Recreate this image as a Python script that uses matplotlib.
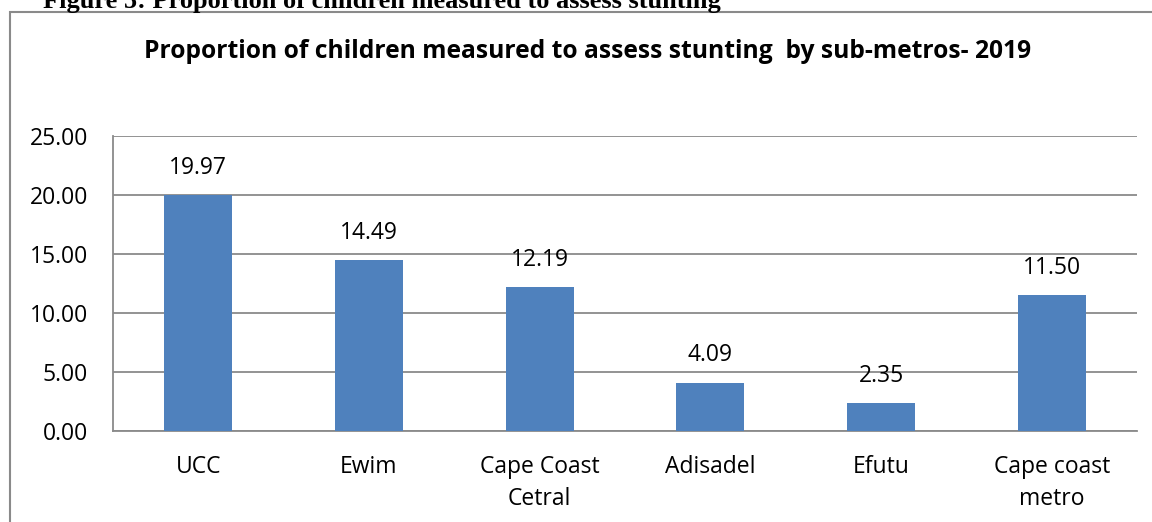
import numpy as np
import matplotlib.pyplot as plt
from matplotlib.patches import Rectangle

categories = ['UCC', 'Ewim', 'Cape Coast\nCetral', 'Adisadel', 'Efutu', 'Cape coast\nmetro']
values = [19.97, 14.49, 12.19, 4.09, 2.35, 11.50]
yticks = [0, 5, 10, 15, 20, 25]

plt.rcParams.update({
    'font.family': ['Open Sans', 'DejaVu Sans'],
    'font.size': 16.5,
})

W, H = 1152, 522
fig = plt.figure(figsize=(W / 100, H / 100), dpi=100)
ax = fig.add_axes([113 / W, 1 - 431 / H, (1137 - 113) / W, (431 - 136) / H])

x = np.arange(len(categories))
bars = ax.bar(x, values, width=0.4, color='#4F81BD', zorder=3)
for xi, v in zip(x, values):
    ax.annotate(f'{v:.2f}', (xi, v), xytext=(0, 11), textcoords='offset points',
                ha='center', va='bottom', fontsize=16.5)

ax.set_xlim(-0.5, len(categories) - 0.5)
ax.set_ylim(0, 25)
ax.set_yticks(yticks, labels=[f'{t:.2f}' for t in yticks])
ax.set_xticks(x, labels=categories)
ax.tick_params(length=0)
ax.tick_params(axis='y', pad=18)
ax.tick_params(axis='x', pad=17)
for lbl in ax.get_xticklabels():
    lbl.set_linespacing(1.45)

ax.yaxis.grid(True, color='#8a8a8a', linewidth=1.3, zorder=0)
ax.set_axisbelow(True)
for side in ['top', 'right']:
    ax.spines[side].set_visible(False)
for side in ['left', 'bottom']:
    ax.spines[side].set_color('#8a8a8a')
    ax.spines[side].set_linewidth(1.3)

# chart title
fig.text(588 / W, 1 - 51 / H, 'Proportion of children measured to assess stunting  by sub-metros- 2019',
         ha='center', va='center', fontsize=17.7, fontweight='bold')

# document caption cut by the top edge
fig.text(43 / W, 1 - 8 / H, 'Figure 5: Proportion of children measured to assess stunting',
         ha='left', va='baseline', fontsize=19, fontweight='bold',
         family=['Liberation Serif', 'DejaVu Serif'])

# chart frame
fig.patches.append(Rectangle((10 / W, -0.1), 1.1, 1.1 - 12 / H, transform=fig.transFigure,
                             fill=False, edgecolor='#8a8a8a', linewidth=1.5))

fig.savefig('out.png', dpi=100)
